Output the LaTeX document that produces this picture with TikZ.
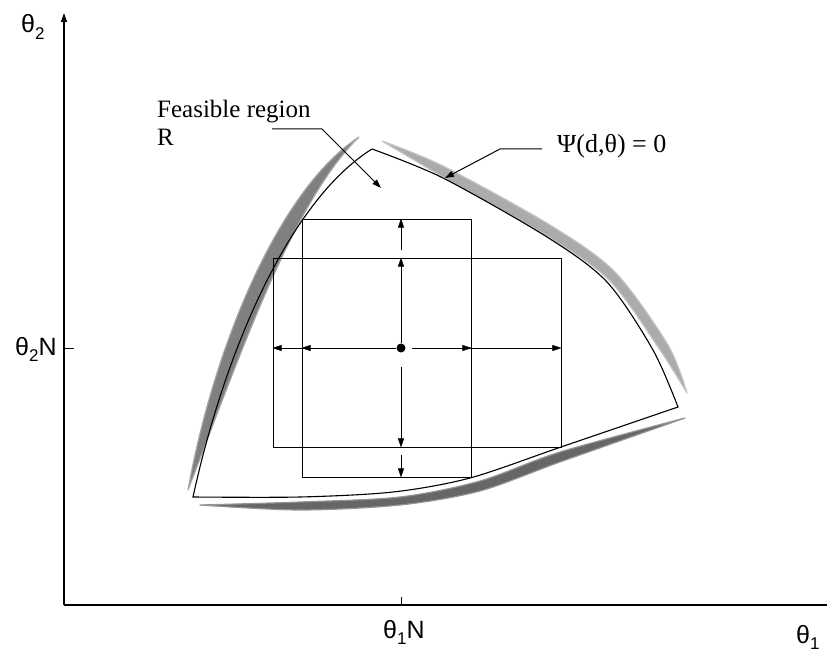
\documentclass[tikz,border=0pt]{standalone}
\usepackage{fontspec}
\setmainfont{Liberation Serif}
\newfontfamily\axfont{Liberation Sans}
\usetikzlibrary{arrows.meta}
\newcommand{\lowsub}[1]{\raisebox{-0.25em}{\fontsize{17}{17}\selectfont #1}}
\colorlet{bandL}{black!50}
\colorlet{bandT}{black!33}
\colorlet{bandB}{black!60}
\tikzset{
  arr/.style={-{Triangle[length=9pt,width=6pt]}},
  axis/.style={line width=1.4pt},
  bline/.style={line width=1.1pt, line join=miter},
  rbox/.style={draw, line width=0.9pt, inner sep=0pt},
  lead/.style={line width=1pt},
  band/.style={fill=#1, draw=#1!70, line width=1.2pt, line join=round},
  axlbl/.style={font=\axfont\fontsize{25}{28}\selectfont, inner sep=0pt, anchor=base west},
  lbl/.style={font=\fontsize{25}{28}\selectfont, inner sep=0pt, anchor=base west},
}
\begin{document}
\begin{tikzpicture}[x=1pt,y=-1pt]
  \useasboundingbox (0,0) rectangle (827,652);
  \coordinate (o) at (64,605);
  \coordinate (ytop) at (64,13);
  \coordinate (xend) at (827,605);
  \coordinate (bl) at (193,497);
  \coordinate (apex) at (372,149);
  \coordinate (rv) at (678,407);

  \path[band=bandL] (188,490) .. controls (214,345) and (280,188) .. (359,137)
    .. controls (294,200) and (242,350) .. (188,490) -- cycle;
  \path[band=bandT] plot[smooth] coordinates {(382,141) (443,166) (550,225) (615,272) (668,345) (687,393)}
    -- plot[smooth] coordinates {(687,393) (660,350) (610,281) (547,236) (443,177) (382,141)} -- cycle;
  \path[band=bandB] plot[smooth] coordinates {(200,505) (300,502) (400,497) (480,481) (560,452) (685,418)}
    -- plot[smooth] coordinates {(685,418) (560,462) (480,491) (400,505) (300,510) (200,505)} -- cycle;

  \draw[bline] (bl) .. controls (225,350) and (290,200) .. (apex)
    -- plot[smooth] coordinates {(apex) (443,178) (547,237) (607,282) (653,350) (rv)}
    -- plot[smooth] coordinates {(rv) (561,447) (470,478) (393,492) (300,497) (bl)} -- cycle;

  \node[rbox, minimum width=169pt, minimum height=258pt] (tall) at (386.5,348) {};
  \node[rbox, minimum width=288pt, minimum height=189pt] (wide) at (417,352.5) {};
  \node[circle, fill, inner sep=0pt, minimum size=9pt] (c) at (401,348) {};

  \foreach \r in {tall,wide} {
    \draw[arr] (c) -- (c -| \r.west);
    \draw[arr, shorten <=6pt] (c) -- (c -| \r.east);
  }
  \draw[arr] (c) -- (c |- wide.north);
  \draw[arr, shorten <=8pt] (c |- wide.north) -- (c |- tall.north);
  \draw[arr, shorten <=14pt] (c) -- (c |- wide.south);
  \draw[arr, shorten <=8pt] (c |- wide.south) -- (c |- tall.south);

  \draw[axis, arr] (o) -- (ytop);
  \draw[axis] (o) -- (xend);
  \coordinate (k2) at (64,348);
  \coordinate (k2e) at (74,348);
  \coordinate (k1) at (401,605);
  \coordinate (k1e) at (401,597);
  \draw[lead] (k2) -- (k2e);
  \draw[lead] (k1) -- (k1e);

  \coordinate (fa) at (272,129);
  \coordinate (fb) at (322,129);
  \coordinate (fc) at (381,188);
  \draw[lead, arr] (fa) -- (fb) -- (fc);
  \coordinate (pa) at (542,149);
  \coordinate (pb) at (500,149);
  \coordinate (pc) at (445,178);
  \draw[lead, arr] (pa) -- (pb) -- (pc);

  \node[axlbl] (lt2) at (21,33) {θ\lowsub{2}};
  \node[axlbl] (lt2n) at (15,355) {θ\lowsub{2}N};
  \node[axlbl] (lt1n) at (383,638) {θ\lowsub{1}N};
  \node[axlbl] (lt1) at (796,643) {θ\lowsub{1}};
  \node[lbl] (feas) at (157,118) {Feasible region};
  \node[lbl] (feasr) at (157,146) {R};
  \node[lbl, font=\fontsize{26}{28}\selectfont] (psi) at (557,153) {Ψ(d,θ) = 0};
\end{tikzpicture}
\end{document}
